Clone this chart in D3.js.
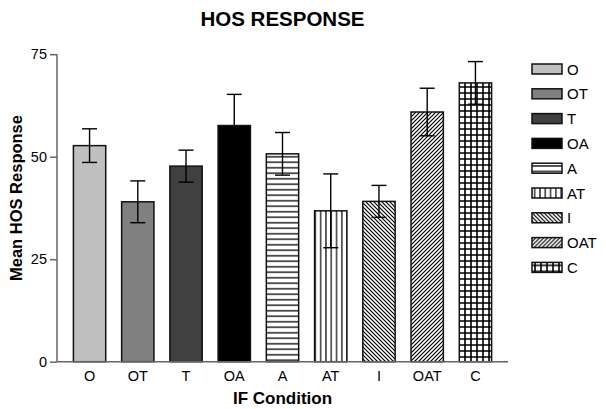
<!DOCTYPE html>
<html>
<head>
<meta charset="utf-8">
<script src="https://cdn.jsdelivr.net/npm/d3@7"></script>
<style>
  body { margin: 0; background: #fff; }
  svg { font-family: Arial, "Liberation Sans", sans-serif; }
</style>
</head>
<body>
<svg width="606" height="409"></svg>
<script>
    // values
    const conditions = ['O', 'OT', 'T', 'OA', 'A', 'AT', 'I', 'OAT', 'C'];
    const means = [52.7, 39.0, 47.7, 57.6, 50.7, 36.8, 39.1, 60.9, 68.0];
    const errors = [4.1, 5.1, 3.9, 7.6, 5.2, 9.0, 3.9, 5.8, 5.2];
    const yTicks = [0, 25, 50, 75];
    const fills = ['#c0c0c0', '#808080', '#404040', '#000000',
        'url(#pA)', 'url(#pAT)', 'url(#pI)', 'url(#pOAT)', 'url(#pC)'];

    const svg = d3.select('svg');
    const mLeft = 57, mRight = 508, mTop = 54.2, mBottom = 361.7;

    const x = d3.scaleBand()
        .domain(conditions)
        .range([mLeft, mRight])
        .paddingInner(0.33)
        .paddingOuter(0.34);

    const y = d3.scaleLinear()
        .domain([0, 75])
        .range([mBottom, mTop]);

    // hatch patterns
    const defs = svg.append('defs');
    const pat = (id, w, h, d, sw) => {
        const p = defs.append('pattern')
            .attr('id', id)
            .attr('patternUnits', 'userSpaceOnUse')
            .attr('width', w).attr('height', h);
        p.append('rect').attr('width', w).attr('height', h).attr('fill', '#fff');
        p.append('path').attr('d', d).attr('stroke', '#000')
            .attr('stroke-width', sw).attr('fill', 'none');
    };
    pat('pA', 10, 5.5, 'M0,2.75H10', 1.3);
    pat('pAT', 5.3, 10, 'M2.65,0V10', 1.2);
    pat('pI', 4, 4, 'M0,0L4,4M-1,3L1,5M3,-1L5,1', 1.2);
    pat('pOAT', 4, 4, 'M0,4L4,0M-1,1L1,-1M3,5L5,3', 1.2);
    pat('pC', 6, 6, 'M0,3H6M3,0V6', 1.6);

    const g = svg.append('g');

    g.selectAll('rect.bar')
        .data(conditions)
        .enter().append('rect')
        .attr('class', 'bar')
        .attr('x', d => x(d))
        .attr('width', x.bandwidth())
        .attr('y', (d, i) => y(means[i]))
        .attr('height', (d, i) => y(0) - y(means[i]))
        .attr('fill', (d, i) => fills[i])
        .attr('stroke', '#111')
        .attr('stroke-width', 1.5);

    // error bars
    const cap = 7.5;
    const eb = g.selectAll('g.err')
        .data(conditions)
        .enter().append('g')
        .attr('class', 'err')
        .attr('stroke', '#000')
        .attr('stroke-width', 1.4);
    const cx = d => x(d) + x.bandwidth() / 2;
    eb.append('line')
        .attr('x1', cx).attr('x2', cx)
        .attr('y1', (d, i) => y(means[i] - errors[i]))
        .attr('y2', (d, i) => y(means[i] + errors[i]));
    eb.append('line')
        .attr('x1', d => cx(d) - cap).attr('x2', d => cx(d) + cap)
        .attr('y1', (d, i) => y(means[i] + errors[i]))
        .attr('y2', (d, i) => y(means[i] + errors[i]));
    eb.append('line')
        .attr('x1', d => cx(d) - cap).attr('x2', d => cx(d) + cap)
        .attr('y1', (d, i) => y(means[i] - errors[i]))
        .attr('y2', (d, i) => y(means[i] - errors[i]));

    // axes
    const yAxis = svg.append('g')
        .attr('transform', 'translate(' + mLeft + ',0)')
        .call(d3.axisLeft(y).tickValues(yTicks).tickSize(7).tickPadding(3));
    yAxis.select('.domain').attr('stroke', '#666').attr('stroke-width', 1.5)
        .attr('d', 'M0,' + mTop + 'V' + mBottom);
    yAxis.selectAll('.tick line').attr('stroke', '#666').attr('stroke-width', 1.5);
    yAxis.selectAll('text').attr('font-size', '14.5px').attr('fill', '#000')
        .attr('font-family', 'Arial, "Liberation Sans", sans-serif');

    const xAxis = svg.append('g')
        .attr('transform', 'translate(0,' + mBottom + ')')
        .call(d3.axisBottom(x).tickSize(0).tickPadding(9));
    xAxis.select('.domain').attr('stroke', '#666').attr('stroke-width', 1.5)
        .attr('d', 'M' + mLeft + ',0H' + mRight);
    xAxis.selectAll('text').attr('font-size', '14.5px').attr('fill', '#000')
        .attr('font-family', 'Arial, "Liberation Sans", sans-serif');

    // titles
    svg.append('text')
        .attr('x', (mLeft + mRight) / 2).attr('y', 26)
        .attr('text-anchor', 'middle')
        .style('font-size', '20.5px').style('font-weight', 'bold')
        .text('HOS RESPONSE');

    svg.append('text')
        .attr('x', (mLeft + mRight) / 2).attr('y', 404)
        .attr('text-anchor', 'middle')
        .style('font-size', '17px').style('font-weight', 'bold')
        .text('IF Condition');

    svg.append('text')
        .attr('transform', 'translate(22,' + 198 + ') rotate(-90)')
        .attr('text-anchor', 'middle')
        .style('font-size', '16.5px').style('font-weight', 'bold')
        .text('Mean HOS Response');

    // legend
    const legend = svg.append('g').attr('transform', 'translate(532,64)');
    const item = legend.selectAll('g')
        .data(conditions)
        .enter().append('g')
        .attr('transform', (d, i) => 'translate(0,' + i * 24.8 + ')');
    item.append('rect')
        .attr('width', 30).attr('height', 10)
        .attr('fill', (d, i) => fills[i])
        .attr('stroke', '#111').attr('stroke-width', 1.5);
    item.append('text')
        .attr('x', 35).attr('y', 10.5)
        .style('font-size', '15px')
        .text(d => d);
</script>
</body>
</html>
